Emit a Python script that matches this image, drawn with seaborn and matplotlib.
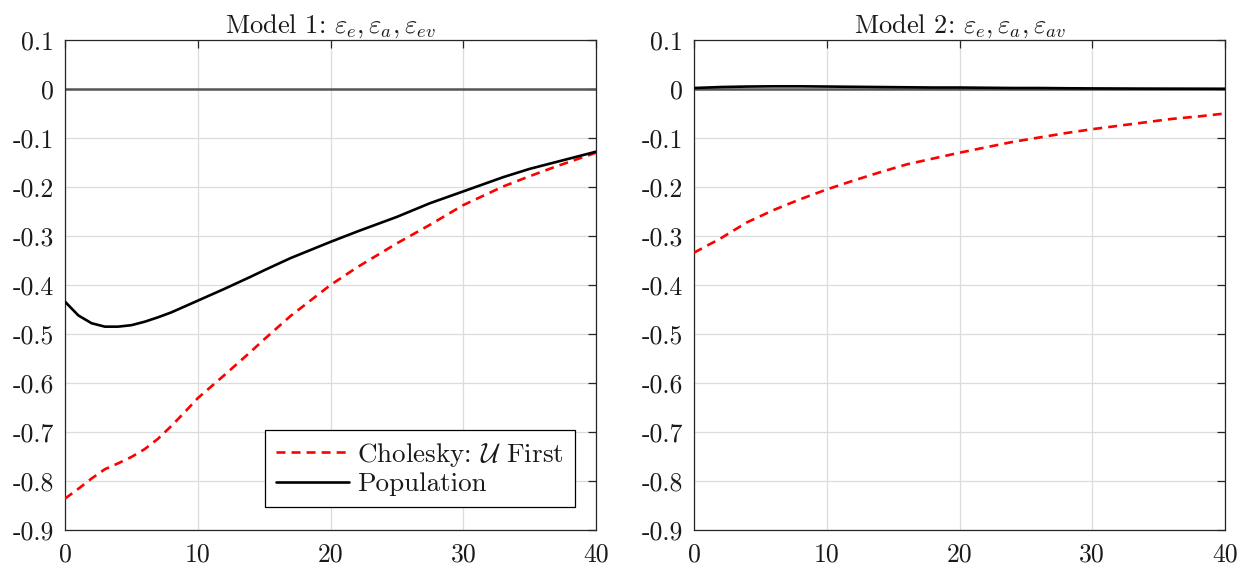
import numpy as np
import pandas as pd
import matplotlib
matplotlib.use("Agg")
import matplotlib.pyplot as plt
import seaborn as sns

# horizons and impulse responses
h_m1 = [0, 1, 2, 3, 4, 5, 6, 7, 8, 9, 10, 12, 14, 15, 17, 20, 22, 25, 27.5, 30, 33, 35, 37, 40]
pop_m1 = [-0.434, -0.462, -0.478, -0.485, -0.485, -0.482, -0.475, -0.466, -0.456, -0.444,
          -0.432, -0.408, -0.383, -0.370, -0.345, -0.312, -0.291, -0.261, -0.233, -0.209,
          -0.180, -0.163, -0.149, -0.128]
chol_m1 = [-0.836, -0.816, -0.795, -0.776, -0.764, -0.751, -0.735, -0.714, -0.688, -0.660,
           -0.631, -0.584, -0.536, -0.511, -0.463, -0.400, -0.364, -0.315, -0.277, -0.237,
           -0.199, -0.178, -0.158, -0.130]

h_m2 = [0, 2, 4, 6, 8, 10, 12, 14, 16, 18, 20, 22, 24, 26, 28, 30, 32, 34, 36, 38, 40]
pop_m2 = [0.002, 0.004, 0.005, 0.0055, 0.0055, 0.005, 0.0045, 0.004, 0.0035, 0.003, 0.003,
          0.0025, 0.002, 0.002, 0.0015, 0.0012, 0.001, 0.0008, 0.0007, 0.0006, 0.0005]
chol_m2 = [-0.334, -0.305, -0.272, -0.247, -0.225, -0.205, -0.187, -0.170, -0.154, -0.142,
           -0.130, -0.119, -0.108, -0.099, -0.090, -0.082, -0.075, -0.068, -0.061, -0.056,
           -0.050]

titles = [r"Model 1: $\varepsilon_e, \varepsilon_a, \varepsilon_{ev}$",
          r"Model 2: $\varepsilon_e, \varepsilon_a, \varepsilon_{av}$"]
labels = [r"Cholesky: $\mathcal{U}$ First", "Population"]
yticks = [0.1, 0, -0.1, -0.2, -0.3, -0.4, -0.5, -0.6, -0.7, -0.8, -0.9]
ytick_labels = ["0.1", "0", "-0.1", "-0.2", "-0.3", "-0.4", "-0.5", "-0.6", "-0.7", "-0.8", "-0.9"]
xticks = [0, 10, 20, 30, 40]

sns.set_style("white")
plt.rcParams["font.family"] = ["cmr10", "DejaVu Serif"]
plt.rcParams["mathtext.fontset"] = "cm"
plt.rcParams["axes.unicode_minus"] = False
plt.rcParams["axes.formatter.use_mathtext"] = True

fig = plt.figure(figsize=(12.51, 5.69), dpi=100)
ax1 = fig.add_axes([65 / 1251, 1 - 530 / 569, 531 / 1251, 490 / 569])
ax2 = fig.add_axes([694 / 1251, 1 - 530 / 569, 531 / 1251, 490 / 569])

panels = [(ax1, h_m1, pop_m1, chol_m1), (ax2, h_m2, pop_m2, chol_m2)]

for i, (ax, h, pop, chol) in enumerate(panels):
    df_c = pd.DataFrame({"h": h, "v": chol})
    df_p = pd.DataFrame({"h": h, "v": pop})

    ax.axhline(0, color="#555555", lw=1.8, zorder=1)
    sns.lineplot(data=df_c, x="h", y="v", ax=ax, color="red", lw=1.9,
                 label=labels[0], zorder=3)
    ax.lines[-1].set_dashes((3.4, 2.3))
    sns.lineplot(data=df_p, x="h", y="v", ax=ax, color="black", lw=1.9,
                 label=labels[1], zorder=4)

    ax.set_xlim(0, 40)
    ax.set_ylim(-0.9, 0.1)
    ax.set_xticks(xticks)
    ax.set_xticklabels([str(t) for t in xticks])
    ax.set_yticks(yticks)
    ax.set_yticklabels(ytick_labels)
    ax.set_xlabel("")
    ax.set_ylabel("")
    ax.set_title(titles[i], fontsize=19, pad=5, color="#1a1a1a")
    ax.grid(True, color="#dcdcdc", lw=0.9)
    ax.set_axisbelow(True)
    ax.tick_params(direction="in", length=6, width=0.9, colors="#262626",
                   labelsize=18.5, top=True, right=True)
    ax.tick_params(axis="y", pad=8)
    ax.tick_params(axis="x", pad=9)
    for t in ax.get_xticklabels() + ax.get_yticklabels():
        t.set_color("#1a1a1a")
    for s in ax.spines.values():
        s.set_visible(True)
        s.set_color("#262626")
        s.set_linewidth(0.9)

    if i == 0:
        leg = ax.legend(loc="lower right", bbox_to_anchor=(0.96, 0.047), borderaxespad=0,
                        fontsize=19.5, frameon=True, fancybox=False, framealpha=1,
                        handlelength=2.7, handletextpad=0.3, borderpad=0.4,
                        labelspacing=0.12)
        leg.get_frame().set_edgecolor("black")
        leg.get_frame().set_linewidth(0.9)
        for t in leg.get_texts():
            t.set_color("#1a1a1a")
    else:
        ax.get_legend().remove()

fig.savefig("out.png", dpi=100)
